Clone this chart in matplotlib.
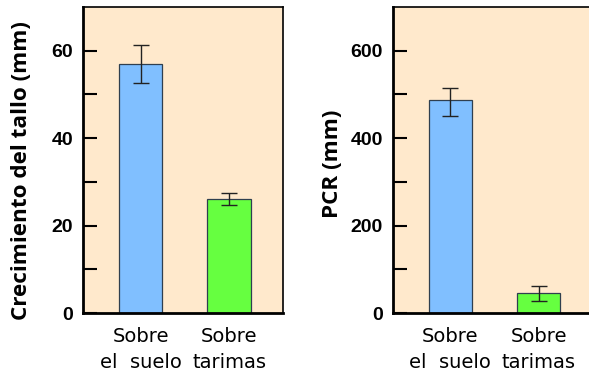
import matplotlib
matplotlib.use("Agg")
import matplotlib.pyplot as plt

categories = ["Sobre\nel  suelo", "Sobre\ntarimas"]
growth = [57.0, 26.0]
growth_err = [4.3, 1.4]
pcr = [487.5, 45.0]
pcr_err_low = [37.0, 17.5]
pcr_err_high = [28.0, 17.5]
growth_ticks = [0, 20, 40, 60]
growth_minor = [10, 30, 50]
pcr_ticks = [0, 200, 400, 600]
pcr_minor = [100, 300, 500]

bar_colors = ["#80BFFF", "#66FF40"]
bg = "#FFE9CC"

fig = plt.figure(figsize=(5.89, 3.77), dpi=100)
fig.patch.set_facecolor("white")

W, H = 589, 377
def ax_at(x0, y0, x1, y1):
    return fig.add_axes([x0 / W, 1 - y1 / H, (x1 - x0) / W, (y1 - y0) / H])

ax1 = ax_at(83, 7, 283, 313)
ax2 = ax_at(392.7, 7, 592.7, 313)

panels = [
    (ax1, growth, [growth_err, growth_err], 70, growth_ticks, growth_minor, "Crecimiento del tallo (mm)", 22, 171),
    (ax2, pcr, [pcr_err_low, pcr_err_high], 700, pcr_ticks, pcr_minor, "PCR (mm)", 332, 164),
]

for ax, vals, err, ymax, ticks, minor, ylabel, lx, ly in panels:
    ax.set_facecolor(bg)
    x = list(range(len(categories)))
    ax.bar(x, vals, width=0.49, color=bar_colors, edgecolor="#2F3F4F",
           linewidth=0.9, zorder=2)
    ax.errorbar(x, vals, yerr=err, fmt="none", ecolor="#222222",
                elinewidth=1.0, capsize=6, capthick=1.0, zorder=3)
    ax.set_xlim(-0.65, 1.61)
    ax.set_ylim(0, ymax)
    ax.set_yticks(ticks)
    ax.set_yticklabels([str(t) for t in ticks], fontsize=14,
                       fontfamily="Liberation Sans", fontweight="bold")
    ax.set_yticks(minor, minor=True)
    ax.tick_params(axis="y", which="both", direction="in", length=10,
                   width=1.5, pad=7, right=False)
    ax.tick_params(axis="x", length=0, pad=10)
    ax.set_xticks(x)
    ax.set_xticklabels(categories, fontsize=14, fontfamily="DejaVu Sans",
                       linespacing=1.45)
    for s in ax.spines.values():
        s.set_linewidth(1.2)
        s.set_color("black")
    ax.spines["left"].set_linewidth(2)
    ax.spines["bottom"].set_linewidth(2)
    fig.text(lx / W, 1 - ly / H, ylabel, rotation=90, ha="center",
             va="center", fontsize=16.2, fontfamily="Open Sans",
             fontweight="bold")

fig.savefig("out.png", dpi=100)
